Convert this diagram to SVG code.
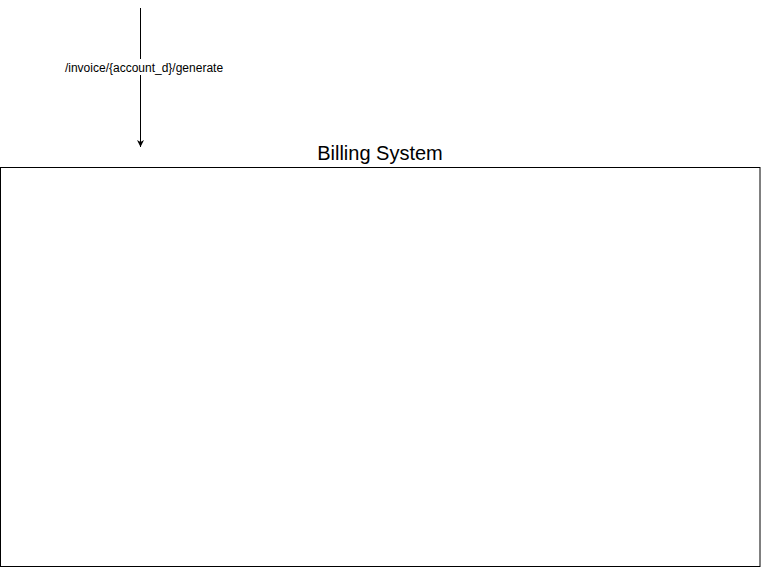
<svg xmlns="http://www.w3.org/2000/svg" width="761" height="568" viewBox="0 0 761 568">
<style>
text{font-family:"Liberation Sans",Arial,sans-serif;fill:#000}
.lbl{font-size:12px}
.title{font-size:20px}
</style>
<defs>
<marker id="arr" markerWidth="8" markerHeight="8" refX="7" refY="4" orient="auto" markerUnits="userSpaceOnUse">
<path d="M0,0.5 L7,4 L0,7.5 L2,4 Z" fill="#000"/>
</marker>
</defs>
<rect width="761" height="568" fill="#fff"/>
<g id="billing-system">
<rect x="0.5" y="167.5" width="759.5" height="399" fill="#fff" stroke="#000" stroke-width="1"/>
<text class="title" x="380" y="160" text-anchor="middle">Billing System</text>
</g>
<g id="connectors">
<line x1="140.5" y1="8" x2="140.5" y2="147" stroke="#000" stroke-width="1" marker-end="url(#arr)"/>
<rect x="62" y="59" width="164" height="16" fill="#fff"/>
<text class="lbl" x="144" y="71.5" text-anchor="middle">/invoice/{account_d}/generate</text>
</g>
</svg>
